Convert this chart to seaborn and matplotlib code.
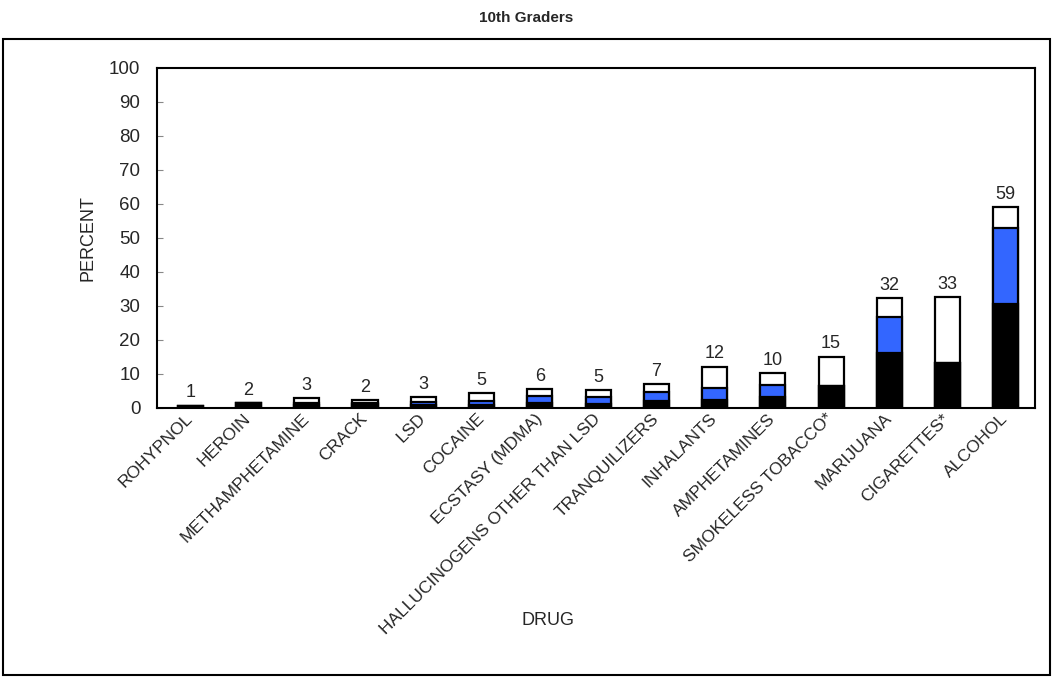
import pandas as pd
import matplotlib.pyplot as plt
import matplotlib.patches as mpatches
import seaborn as sns

# Data (percent of 10th graders)
drugs = ['ROHYPNOL', 'HEROIN', 'METHAMPHETAMINE', 'CRACK', 'LSD', 'COCAINE',
         'ECSTASY (MDMA)', 'HALLUCINOGENS OTHER THAN LSD', 'TRANQUILIZERS',
         'INHALANTS', 'AMPHETAMINES', 'SMOKELESS TOBACCO*', 'MARIJUANA',
         'CIGARETTES*', 'ALCOHOL']
black_vals = [0.7, 1.5, 0.8, 1.2, 0.9, 1.0, 1.4, 1.2, 2.1, 2.4, 3.3, 6.6, 16.1, 13.3, 30.6]
blue_vals = [0.0, 0.0, 0.6, 0.2, 0.8, 1.2, 2.2, 2.1, 2.7, 3.4, 3.5, 0.0, 10.6, 0.0, 22.3]
white_vals = [0.0, 0.0, 1.5, 0.9, 1.4, 2.3, 1.9, 2.0, 2.2, 6.4, 3.4, 8.5, 5.6, 19.3, 6.1]
total_labels = ['1', '2', '3', '2', '3', '5', '6', '5', '7', '12', '10', '15', '32', '33', '59']
y_ticks = list(range(0, 101, 10))

df = pd.DataFrame({'drug': drugs, 'black': black_vals, 'blue': blue_vals, 'white': white_vals})
df['mid'] = df['black'] + df['blue']
df['top'] = df['mid'] + df['white']

sns.set_style("ticks")
plt.rcParams['font.family'] = ['Liberation Sans', 'DejaVu Sans']

fig = plt.figure(figsize=(10.53, 6.77), dpi=100)
ax = fig.add_axes([157 / 1053, 1 - 408 / 677, 878 / 1053, 340 / 677])

bar_kw = dict(edgecolor='black', linewidth=1.6, width=0.43, saturation=1, ax=ax)
sns.barplot(data=df, x='drug', y='top', color='white', **bar_kw)
sns.barplot(data=df, x='drug', y='mid', color='#3366ff', **bar_kw)
sns.barplot(data=df, x='drug', y='black', color='black', **bar_kw)

ax.bar_label(ax.containers[0], labels=total_labels, padding=3, fontsize=13)

ax.set_ylim(0, 100)
ax.set_xlim(-0.57, 14.5)
ax.set_yticks(y_ticks)
ax.tick_params(axis='y', direction='in', length=4, width=0.8, color='#888888', labelsize=13.5, pad=12)
ax.tick_params(axis='x', length=0, labelsize=12.5, pad=6)
for lbl in ax.get_xticklabels():
    lbl.set_rotation(45)
    lbl.set_ha('right')
    lbl.set_va('center')
    lbl.set_rotation_mode('anchor')

for side in ['left', 'right', 'top', 'bottom']:
    ax.spines[side].set_visible(True)
    ax.spines[side].set_color('black')
    ax.spines[side].set_linewidth(1.5)

ax.set_xlabel('DRUG', fontsize=13)
ax.set_ylabel('PERCENT', fontsize=13)
ax.xaxis.set_label_coords(0.445, -0.6)
ax.yaxis.set_label_coords(-0.069, 0.5)

fig.text(526 / 1053, 1 - 18 / 677, '10th Graders', ha='center', va='center',
         fontsize=11, fontweight='bold')

# outer frame around the chart area
frame = mpatches.Rectangle((3 / 1053, 2 / 677), 1047 / 1053, 636 / 677,
                           transform=fig.transFigure, fill=False,
                           edgecolor='black', linewidth=1.5)
fig.patches.append(frame)

fig.savefig('out.png', dpi=100)
